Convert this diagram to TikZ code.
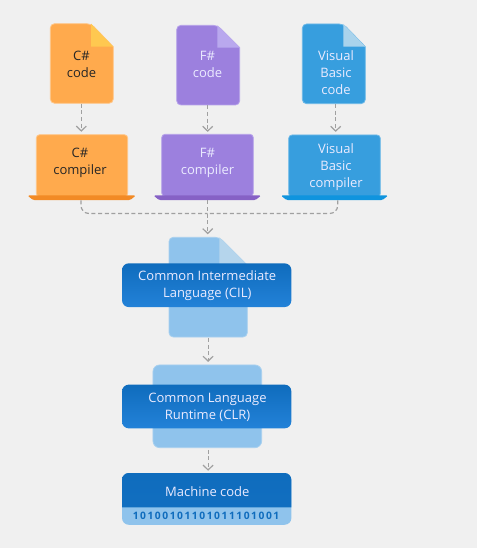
\documentclass[tikz,border=0pt]{standalone}
\usepackage{fontspec}
\setmainfont{Open Sans}
\usetikzlibrary{arrows.meta,calc}
\definecolor{bgc}{HTML}{F0F0F0}
\definecolor{orangeA}{HTML}{FFAA4D}\definecolor{orangeF}{HTML}{FFC850}\definecolor{orangeB}{HTML}{F28A25}\definecolor{orangeE}{HTML}{FFC78A}
\definecolor{purpleA}{HTML}{9C80DE}\definecolor{purpleF}{HTML}{B9A8EE}\definecolor{purpleB}{HTML}{8661C5}\definecolor{purpleE}{HTML}{B6A2EA}
\definecolor{blueA}{HTML}{379EDE}\definecolor{blueF}{HTML}{A9D3EC}\definecolor{blueB}{HTML}{0F94DE}\definecolor{blueE}{HTML}{6DB9E8}
\definecolor{lightA}{HTML}{8FC3EC}\definecolor{lightF}{HTML}{B5D5EC}\definecolor{lightE}{HTML}{A8D0EF}
\definecolor{darkT}{HTML}{0F6CBD}\definecolor{darkB}{HTML}{2382D8}\definecolor{arrowc}{HTML}{A0A0A0}
\newcommand{\uu}{0.75pt}
% l t r b foldx foldy body fold edge
\newcommand{\docshape}[9]{%
  \draw[#9,fill=#7,line width=0.6pt,rounded corners=3.2pt]
    (#5,#2) [sharp corners] -- (#3,#6) [rounded corners=3.2pt] -- (#3,#4) -- (#1,#4) -- (#1,#2) -- cycle;
  \fill[#8] (#5,#2) -- (#3,#6) -- (#5,#6) -- cycle;
}
% l r t b
\newcommand{\baseshape}[5]{%
  \fill[#5,rounded corners=1.2pt] (#1,#3) -- (#2,#3) -- ({#2-6},#4) -- ({#1+6},#4) -- cycle;
}
\tikzset{
  holder/.style={rectangle,inner sep=0pt,minimum width=#1*\uu},
  lbl/.style={align=center,font=\fontsize{9.75}{12.75}\selectfont,inner sep=0pt},
  lblk/.style={lbl,text=black!85},
  lblw/.style={lbl,text=white!92!blue},
  laptop/.style={rectangle,rounded corners=2.5pt,inner sep=0pt,line width=0.6pt},
  band/.style={rectangle,rounded corners=5pt,inner sep=0pt,minimum width=169.3*\uu,draw=none,top color=darkT,bottom color=darkB},
  flow/.style={draw=arrowc,line width=0.9pt,dash pattern=on 3pt off 2pt,-{Straight Barb[length=3.6pt,width=7.5pt,line width=0.9pt]}},
  flowplain/.style={draw=arrowc,line width=0.9pt,dash pattern=on 3pt off 2pt,rounded corners=6pt},
}
\begin{document}
\begin{tikzpicture}[x=0.75pt,y=-0.75pt]
\useasboundingbox[fill=bgc] (0,0) rectangle (477,548);

% source files
\docshape{50.3}{23.7}{113.3}{103.3}{91}{46.7}{orangeA}{orangeF}{orangeE}
\docshape{176.7}{25.3}{239.7}{105}{217.3}{47.7}{purpleA}{purpleF}{purpleE}
\docshape{302.3}{24}{365.3}{103.7}{343.3}{46.7}{blueA}{blueF}{blueE}
\node[holder=63,minimum height=79.6*\uu] (csdoc) at (81.8,63.5) {};
\node[holder=63,minimum height=79.7*\uu] (fsdoc) at (208.2,65.2) {};
\node[holder=63,minimum height=79.7*\uu] (vbdoc) at (333.8,63.9) {};
\node[lblk] (cstext) at (81.5,64.5) {C\#\\code};
\node[lblw] (fstext) at (207.5,64.5) {F\#\\code};
\node[lblw] (vbtext) at (336,72.5) {Visual\\Basic\\code};

% compilers
\node[laptop,draw=orangeE,fill=orangeA,minimum width=91.4*\uu,minimum height=62*\uu] (cscomp) at (82,165.7) {};
\node[laptop,draw=purpleE,fill=purpleA,minimum width=91.6*\uu,minimum height=62*\uu] (fscomp) at (207.5,165.3) {};
\node[laptop,draw=blueE,fill=blueA,minimum width=91.6*\uu,minimum height=62*\uu] (vbcomp) at (334.5,166) {};
\baseshape{27.3}{136}{195.4}{200.2}{orangeB}
\baseshape{153.3}{261.3}{195.4}{200.2}{purpleB}
\baseshape{280.7}{388.3}{195.4}{200.2}{blueB}
\node[holder=108.7,minimum height=4.8*\uu] (csbase) at (81.7,197.8) {};
\node[holder=108,minimum height=4.8*\uu] (fsbase) at (207.3,197.8) {};
\node[holder=107.6,minimum height=4.8*\uu] (vbbase) at (334.5,197.8) {};
\node[lblk] (cscomptext) at (80,162.8) {C\#\\compiler};
\node[lblw] (fscomptext) at (207.5,162.8) {F\#\\compiler};
\node[lblw] (vbcomptext) at (336,167.3) {Visual\\Basic\\compiler};

% CIL
\docshape{169}{237.3}{247.3}{337}{219.3}{265.3}{lightA}{lightF}{lightE}
\node[band,minimum height=43.7*\uu] (cil) at (206.7,285.2) {};
\node[lblw] (ciltext) at (207.2,286) {Common Intermediate\\Language (CIL)};
\node[holder=78.3,minimum height=99.7*\uu] (cildoc) at (208.2,287.2) {};

% CLR
\node[rectangle,rounded corners=5pt,inner sep=0pt,draw=lightE,line width=0.6pt,fill=lightA,minimum width=108.7*\uu,minimum height=82.7*\uu] (clrback) at (207.3,406.3) {};
\node[band,minimum height=43.7*\uu] (clr) at (206.7,406.5) {};
\node[lblw] (clrtext) at (207.5,407.5) {Common Language\\Runtime (CLR)};

% machine code
\node[rectangle,rounded corners=5pt,inner sep=0pt,fill=lightA,minimum width=169.3*\uu,minimum height=51.7*\uu] (mach) at (206.7,498.9) {};
\shade[top color=darkT,bottom color=darkT!88!darkB,rounded corners=5pt] (122,507.3) [sharp corners] -- (122,490) [rounded corners=5pt] -- (122,473) -- (291.3,473) -- (291.3,490) [sharp corners] -- (291.3,507.3) -- cycle;
\node[lblw] (machtext) at (207.3,491.5) {Machine code};
\node[inner sep=0pt,text=darkT,font=\fontsize{7.7}{9}\selectfont\bfseries\addfontfeature{LetterSpace=15}] (digits) at (206,515.8) {10100101101011101001};

% connectors
\draw[flow] ([xshift=-0.5*\uu]csdoc.south) -- ++(0,28.2);
\draw[flow] ([xshift=-0.5*\uu]fsdoc.south) -- ++(0,26.6);
\draw[flow] ([xshift=1.9*\uu]vbdoc.south) -- ++(0,27.9);
\coordinate (merge) at (207.7,213.5);
\path[flowplain,draw] ([xshift=-0.7*\uu]csbase.south) |- (merge);
\path[flowplain,draw] ([xshift=3.2*\uu]vbbase.south) |- (merge);
\draw[flow] ([xshift=0.4*\uu]fsbase.south) -- ++(0,33.8);
\draw[flow] (cildoc.south -| fsbase.south) ++(0.8,0.8) -- ++(0,23.8);
\draw[flow] (clrback.south -| fsbase.south) ++(0.8,1.7) -- ++(0,21);
\end{tikzpicture}
\end{document}
